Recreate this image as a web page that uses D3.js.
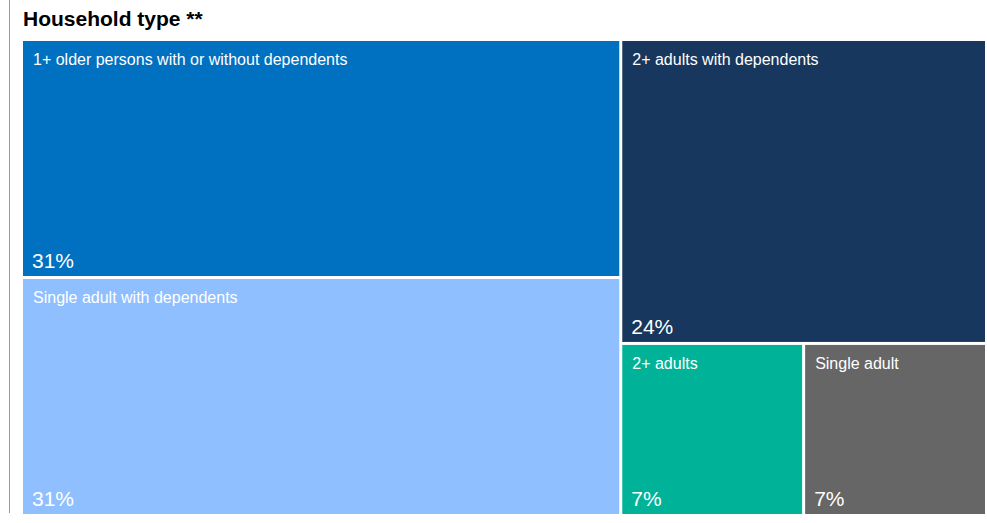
<!DOCTYPE html>
<html>
<head>
<meta charset="utf-8">
<script src="https://cdn.jsdelivr.net/npm/d3@7"></script>
<style>
  html, body { margin: 0; padding: 0; background: #fff; }
  svg { display: block; font-family: "Liberation Sans", Arial, sans-serif; }
</style>
</head>
<body>
<svg id="chart" width="987" height="523"></svg>
<script>
// Data (shares; labels show rounded %)
const title = "Household type **";
const categories = [
  "1+ older persons with or without dependents",
  "Single adult with dependents",
  "2+ adults with dependents",
  "2+ adults",
  "Single adult"
];
const values = [31.05, 31.05, 24.2, 6.85, 6.85];
const groups = ["left", "left", "right", "right-bottom", "right-bottom"];
const colors = ["#0070C0", "#8FBFFF", "#17375E", "#00B398", "#666666"];

const svg = d3.select("#chart");

// left rule
svg.append("line")
  .attr("x1", 9.5).attr("x2", 9.5)
  .attr("y1", 0).attr("y2", 513)
  .attr("stroke", "#9a9a9a").attr("stroke-width", 1);

svg.append("text")
  .attr("x", 23).attr("y", 26)
  .attr("font-size", 21).attr("font-weight", "bold")
  .attr("fill", "#000")
  .text(title);

// Build nested structure from flat arrays
const leaves = categories.map((c, i) => ({ name: c, value: values[i], color: colors[i], group: groups[i] }));
const rootData = {
  name: "root",
  children: [
    { name: "left", children: leaves.filter(d => d.group === "left") },
    { name: "right", children: [
      ...leaves.filter(d => d.group === "right"),
      { name: "right-bottom", children: leaves.filter(d => d.group === "right-bottom") }
    ]}
  ]
};

const root = d3.hierarchy(rootData).sum(d => d.children ? 0 : d.value);

const X0 = 23, Y0 = 41, X1 = 985, Y1 = 514;
d3.treemap()
  .tile(d3.treemapSliceDice)
  .size([X1 - X0, Y1 - Y0])
  .paddingInner(3)
  .round(false)(root);

const g = svg.append("g").attr("transform", `translate(${X0},${Y0})`);

const cells = g.selectAll("g")
  .data(root.leaves())
  .join("g")
  .attr("transform", d => `translate(${d.x0},${d.y0})`);

cells.append("rect")
  .attr("width", d => d.x1 - d.x0)
  .attr("height", d => d.y1 - d.y0)
  .attr("fill", d => d.data.color);

cells.append("text")
  .attr("x", 10).attr("y", 24)
  .attr("font-size", 16)
  .attr("fill", "#fff")
  .text(d => d.data.name);

cells.append("text")
  .attr("x", 9).attr("y", d => d.y1 - d.y0 - 8)
  .attr("font-size", 21)
  .attr("fill", "#fff")
  .text(d => Math.round(d.data.value) + "%");
</script>
</body>
</html>
